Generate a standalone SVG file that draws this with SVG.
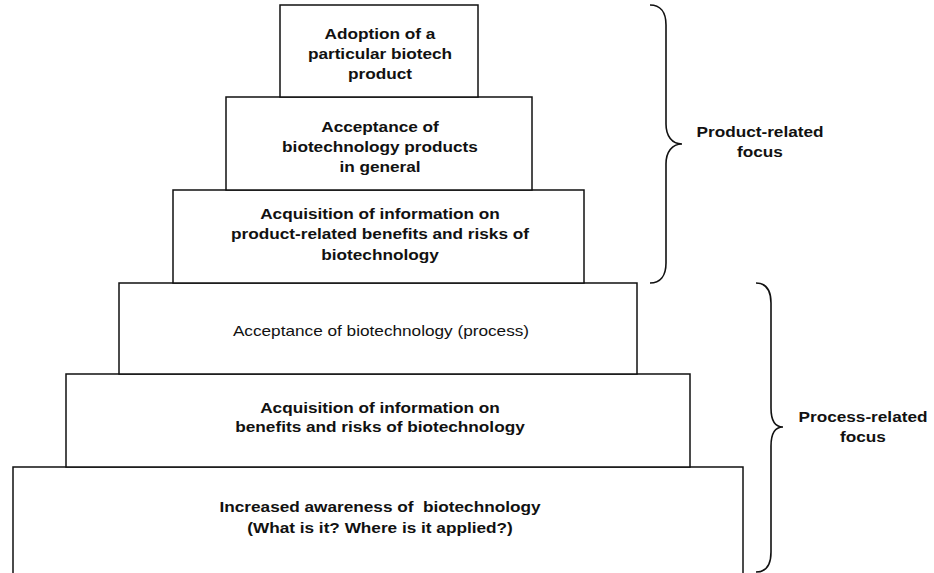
<svg xmlns="http://www.w3.org/2000/svg" width="934" height="573" viewBox="0 0 934 573">
<style>
.box{fill:#fff;stroke:#111;stroke-width:1.5}
.t{font-family:"Liberation Sans",Arial,sans-serif;font-size:15px;font-weight:bold;fill:#111;text-anchor:middle}
.r{font-weight:normal}
.brace{fill:none;stroke:#111;stroke-width:1.6}
</style>
<rect width="934" height="573" fill="#fff"/>
<g id="level6">
<rect class="box" x="13" y="467" width="730" height="130"/>
<text class="t" transform="translate(380 512) scale(1.147 1)" xml:space="preserve"><tspan x="0" y="0">Increased awareness of  biotechnology</tspan><tspan x="0" y="21">(What is it? Where is it applied?)</tspan></text>
</g>
<g id="level5">
<rect class="box" x="66" y="374" width="624" height="93"/>
<text class="t" transform="translate(380 413) scale(1.147 1)"><tspan x="0" y="0">Acquisition of information on</tspan><tspan x="0" y="19.5">benefits and risks of biotechnology</tspan></text>
</g>
<g id="level4">
<rect class="box" x="119" y="283" width="518" height="91"/>
<text class="t r" transform="translate(381 336) scale(1.147 1)">Acceptance of biotechnology (process)</text>
</g>
<g id="level3">
<rect class="box" x="173" y="190" width="411" height="93"/>
<text class="t" transform="translate(380 219) scale(1.147 1)"><tspan x="0" y="0">Acquisition of information on</tspan><tspan x="0" y="20.5">product-related benefits and risks of</tspan><tspan x="0" y="41">biotechnology</tspan></text>
</g>
<g id="level2">
<rect class="box" x="226" y="97" width="306" height="93"/>
<text class="t" transform="translate(380 132) scale(1.147 1)"><tspan x="0" y="0">Acceptance of</tspan><tspan x="0" y="20.5">biotechnology products</tspan><tspan x="0" y="40.5">in general</tspan></text>
</g>
<g id="level1">
<rect class="box" x="280" y="5" width="198" height="92"/>
<text class="t" transform="translate(380 39) scale(1.147 1)"><tspan x="0" y="0">Adoption of a</tspan><tspan x="0" y="20.5">particular biotech</tspan><tspan x="0" y="40.5">product</tspan></text>
</g>
<g id="connectors">
<path class="brace" d="M650,5 C660,5 666,12 666,25 L666,124 C666,136 672,144 682,144 C672,144 666,152 666,164 L666,263 C666,276 660,283 650,283"/>
<path class="brace" d="M756,283 C766,283 771,290 771,303 L771,408 C771,420 775,427 783,427 C775,427 771,434 771,446 L771,552 C771,565 766,572 756,572"/>
</g>
<g id="product-focus">
<text class="t" transform="translate(760 137) scale(1.147 1)"><tspan x="0" y="0">Product-related</tspan><tspan x="0" y="20">focus</tspan></text>
</g>
<g id="process-focus">
<text class="t" transform="translate(863 422) scale(1.147 1)"><tspan x="0" y="0">Process-related</tspan><tspan x="0" y="20">focus</tspan></text>
</g>
</svg>
